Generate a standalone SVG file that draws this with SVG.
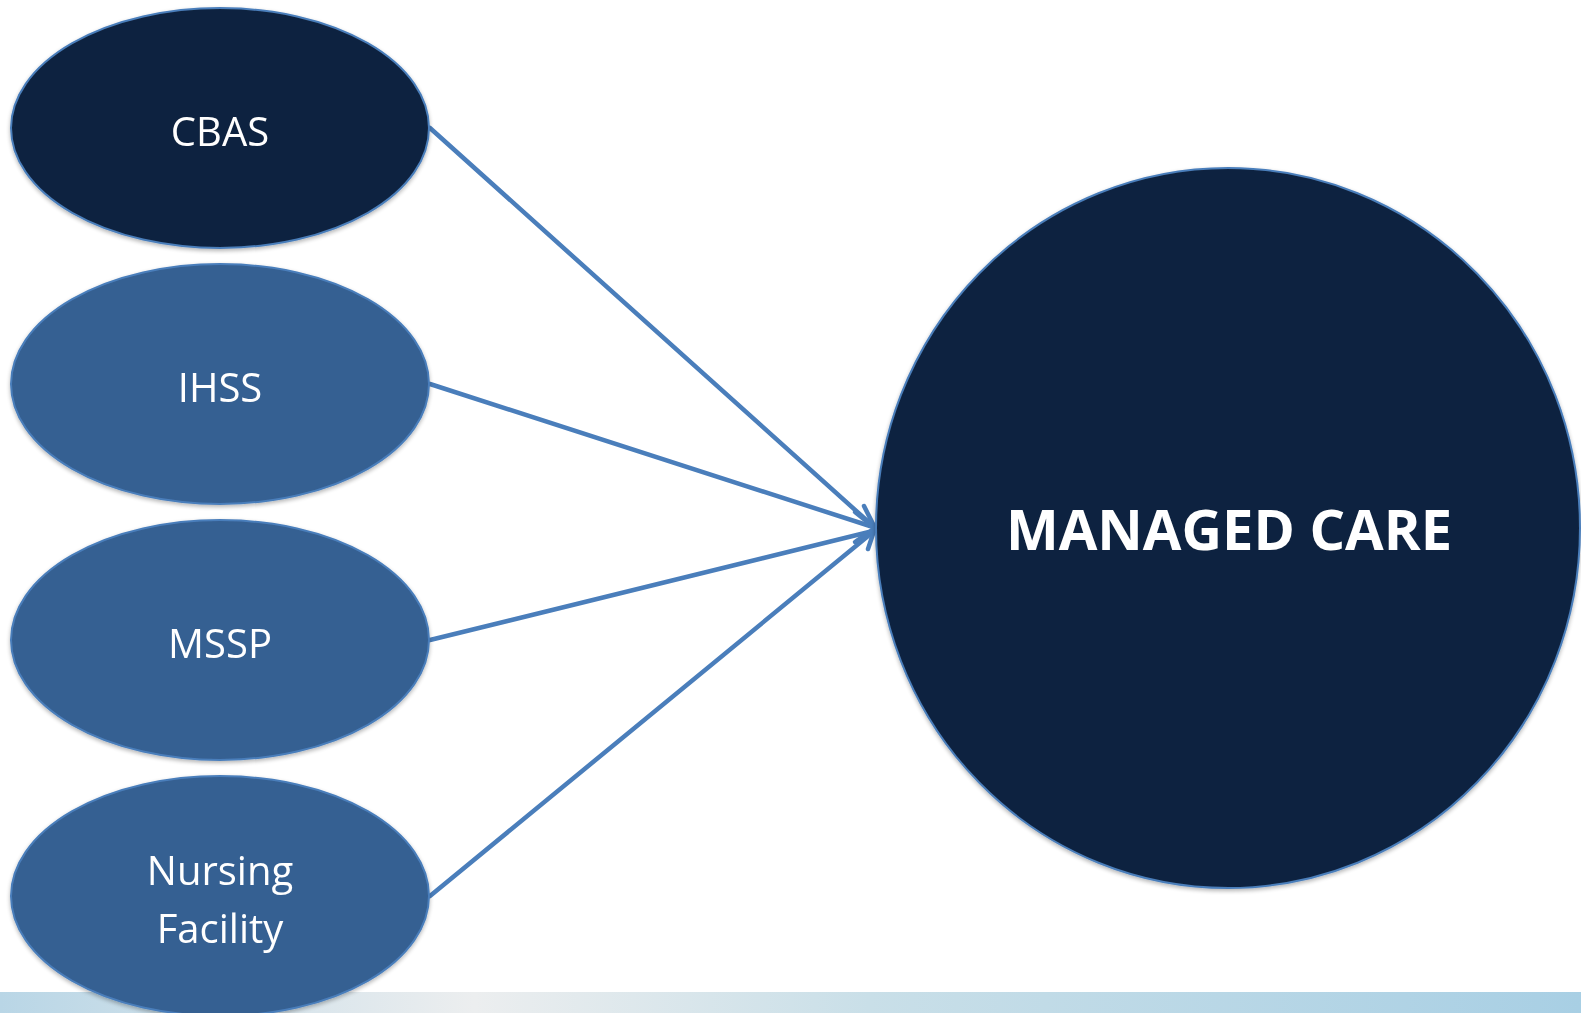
<svg xmlns="http://www.w3.org/2000/svg" width="1581" height="1013" viewBox="0 0 1581 1013">
<defs>
<linearGradient id="strip" x1="0" y1="0" x2="1" y2="0">
<stop offset="0" stop-color="#b9d6e6"/>
<stop offset="0.3" stop-color="#eceeef"/>
<stop offset="0.55" stop-color="#c9dfe8"/>
<stop offset="1" stop-color="#a8cfe4"/>
</linearGradient>
<filter id="sh" x="-10%" y="-10%" width="120%" height="120%">
<feGaussianBlur in="SourceAlpha" stdDeviation="2"/>
<feOffset dx="0" dy="2"/>
<feComponentTransfer><feFuncA type="linear" slope="0.3"/></feComponentTransfer>
<feMerge><feMergeNode/><feMergeNode in="SourceGraphic"/></feMerge>
</filter>
</defs>
<style>
.dark{fill:#11243f;stroke:#4a7ebb;stroke-width:2}
.mid{fill:#366092;stroke:#4a7ebb;stroke-width:2}
.lbl{font-family:"Open Sans","Liberation Sans",sans-serif;font-size:40px;fill:#ffffff;text-anchor:middle}
.big{font-family:"Open Sans","Liberation Sans",sans-serif;font-size:56px;font-weight:bold;fill:#ffffff;text-anchor:middle}
.conn{stroke:#4a7ebb;stroke-width:4.5;fill:none;stroke-linecap:round;stroke-linejoin:round}
</style>
<rect width="1581" height="1013" fill="#ffffff"/>
<rect x="0" y="992" width="1581" height="21" fill="url(#strip)"/>
<g id="connectors">
<line class="conn" x1="430" y1="128" x2="873" y2="526"/>
<line class="conn" x1="430" y1="384" x2="873" y2="527"/>
<line class="conn" x1="430" y1="640" x2="873" y2="531"/>
<line class="conn" x1="430" y1="896" x2="873" y2="532"/>
<polyline class="conn" points="864,506 875,528 868,549"/>
<polyline class="conn" points="855,512 875,528 855,542"/>
</g>
<g id="node-cbas" filter="url(#sh)">
<ellipse class="dark" cx="220" cy="128" rx="209" ry="120"/>
<text class="lbl" x="220" y="146">CBAS</text>
</g>
<g id="node-ihss" filter="url(#sh)">
<ellipse class="mid" cx="220" cy="384" rx="209" ry="120"/>
<text class="lbl" x="220" y="402">IHSS</text>
</g>
<g id="node-mssp" filter="url(#sh)">
<ellipse class="mid" cx="220" cy="640" rx="209" ry="120"/>
<text class="lbl" x="220" y="658">MSSP</text>
</g>
<g id="node-nursing" filter="url(#sh)">
<ellipse class="mid" cx="220" cy="896" rx="209" ry="120"/>
<text class="lbl" x="220" y="885">Nursing</text>
<text class="lbl" x="220" y="943">Facility</text>
</g>
<g id="node-managed-care" filter="url(#sh)">
<ellipse class="dark" cx="1228" cy="528" rx="352" ry="360"/>
<text class="big" x="1229" y="550">MANAGED CARE</text>
</g>
</svg>
